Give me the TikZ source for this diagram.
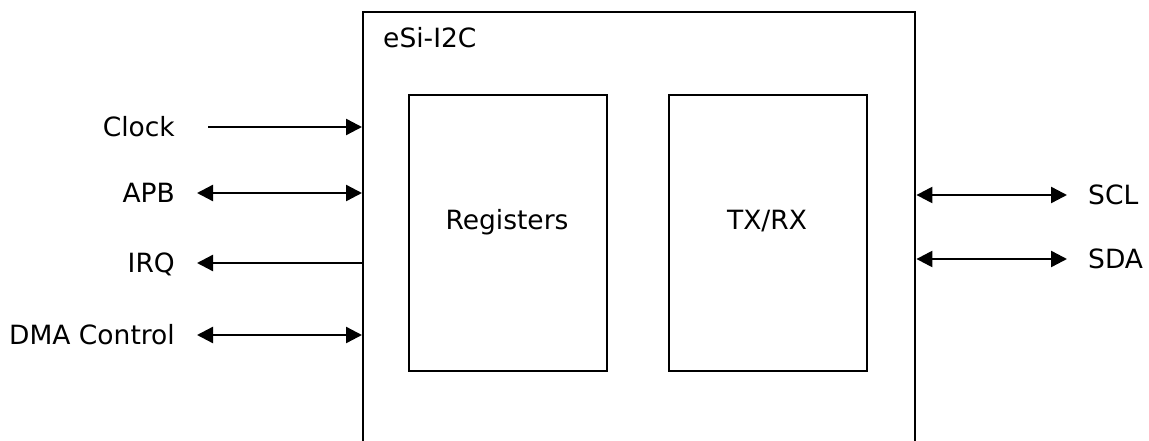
\documentclass[tikz,border=0pt]{standalone}
\usepackage{fontspec}
\setmainfont{DejaVu Sans}
\usetikzlibrary{arrows.meta}
\begin{document}
\begin{tikzpicture}[x=1pt,y=-1pt,
  sig/.style={line width=2.4pt,-{Triangle[length=16pt,width=16pt]}},
  bisig/.style={line width=2.4pt,{Triangle[length=16pt,width=16pt]}-{Triangle[length=16pt,width=16pt]}},
  lbl/.style={inner sep=0pt,font=\fontsize{26.5}{31}\selectfont},
  blk/.style={draw,line width=2.2pt,inner sep=0pt}]
\clip (0,0) rectangle (1149,441);
\fill[white] (0,0) rectangle (1149,441);
% outer chip box (open at bottom, extends past the picture)
\node[draw,line width=2.4pt,inner sep=0pt,minimum width=552pt,minimum height=520pt,anchor=north west] (chip) at (362,11) {};
\node[lbl,anchor=base west] (title) at (383,48) {eSi-I2C};
% inner blocks
\node[blk,minimum width=198pt,minimum height=276pt,anchor=north west] (reg) at (408,94) {};
\node[blk,minimum width=198pt,minimum height=276pt,anchor=north west] (txrx) at (668,94) {};
\node[lbl,anchor=base] (regt) at (507,229) {Registers};
\node[lbl,anchor=base] (txrxt) at (767,229) {TX/RX};
% left labels
\node[lbl,anchor=base east] (clk) at (175,136.5) {Clock};
\node[lbl,anchor=base east] (apb) at (175,202.5) {APB};
\node[lbl,anchor=base east] (irq) at (175,272.5) {IRQ};
\node[lbl,anchor=base east] (dma) at (175,344.5) {DMA Control};
% right labels
\node[lbl,anchor=base west] (scl) at (1088,204.5) {SCL};
\node[lbl,anchor=base west] (sda) at (1088,268.5) {SDA};
% arrow free ends
\coordinate (clkS) at (208,127);
\coordinate (apbS) at (197,193);
\coordinate (irqS) at (197,263);
\coordinate (dmaS) at (197,335);
\coordinate (sclE) at (1067,195);
\coordinate (sdaE) at (1067,259);
% connectors
\draw[sig] (clkS) -- (chip.west |- clkS);
\draw[bisig] (apbS) -- (chip.west |- apbS);
\draw[sig] (chip.west |- irqS) -- (irqS);
\draw[bisig] (dmaS) -- (chip.west |- dmaS);
\draw[bisig] (chip.east |- sclE) -- (sclE);
\draw[bisig] (chip.east |- sdaE) -- (sdaE);
\end{tikzpicture}
\end{document}
